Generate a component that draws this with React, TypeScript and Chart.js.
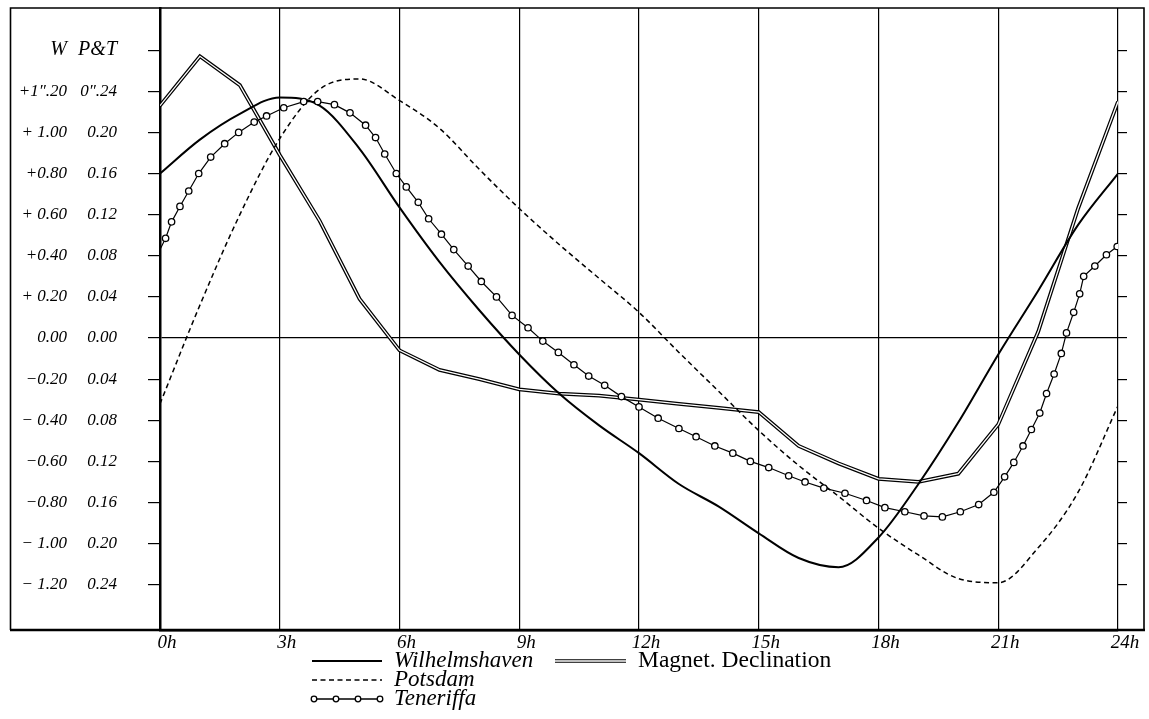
import React, { useEffect, useRef } from 'react';
import { Chart, registerables } from 'chart.js';

Chart.register(...registerables);

// ---- data (hours, W-scale values for Wilhelmshaven & Magnet. Declination, P&T-scale for Potsdam & Teneriffa)
const HOURS = [0, 1, 2, 3, 4, 5, 6, 7, 8, 9, 10, 11, 12, 13, 14, 15, 16, 17, 18, 19, 20, 21, 22, 23, 24];
const WILHELMSHAVEN = [0.80, 0.965, 1.09, 1.17, 1.13, 0.92, 0.635, 0.37, 0.135, -0.08, -0.27, -0.425, -0.56, -0.71, -0.82, -0.95, -1.07, -1.115, -0.97, -0.71, -0.41, -0.08, 0.23, 0.55, 0.80];
const MAGNET_DECLINATION = [1.13, 1.37, 1.23, 0.89, 0.57, 0.19, -0.06, -0.155, -0.20, -0.25, -0.27, -0.28, -0.30, -0.32, -0.34, -0.36, -0.525, -0.61, -0.685, -0.70, -0.66, -0.42, 0.03, 0.63, 1.15];
const POTSDAM = [-0.064, 0.032, 0.120, 0.194, 0.242, 0.252, 0.231, 0.204, 0.164, 0.126, 0.091, 0.058, 0.025, -0.014, -0.052, -0.090, -0.124, -0.154, -0.185, -0.211, -0.234, -0.238, -0.204, -0.150, -0.066];
const TENERIFFA_HOURS = [0, 0.14, 0.29, 0.50, 0.72, 0.97, 1.27, 1.62, 1.97, 2.36, 2.67, 3.10, 3.60, 3.95, 4.37, 4.76, 5.15, 5.40, 5.63, 5.92, 6.17, 6.47, 6.73, 7.05, 7.36, 7.72, 8.05, 8.43, 8.82, 9.22, 9.59, 9.98, 10.37, 10.74, 11.14, 11.56, 12.00, 12.48, 13.00, 13.43, 13.90, 14.35, 14.79, 15.25, 15.75, 16.16, 16.63, 17.16, 17.70, 18.16, 18.66, 19.14, 19.60, 20.05, 20.51, 20.89, 21.16, 21.39, 21.62, 21.83, 22.04, 22.21, 22.40, 22.58, 22.71, 22.89, 23.04, 23.14, 23.42, 23.71, 23.98];
const TENERIFFA = [0.086, 0.097, 0.113, 0.128, 0.143, 0.160, 0.176, 0.189, 0.200, 0.210, 0.216, 0.224, 0.230, 0.230, 0.227, 0.219, 0.207, 0.195, 0.179, 0.160, 0.147, 0.132, 0.116, 0.101, 0.086, 0.070, 0.055, 0.040, 0.022, 0.010, -0.003, -0.014, -0.026, -0.037, -0.046, -0.057, -0.067, -0.078, -0.088, -0.096, -0.105, -0.112, -0.120, -0.126, -0.134, -0.140, -0.146, -0.151, -0.158, -0.165, -0.169, -0.173, -0.174, -0.169, -0.162, -0.150, -0.135, -0.121, -0.105, -0.089, -0.073, -0.054, -0.035, -0.015, 0.005, 0.025, 0.043, 0.060, 0.070, 0.081, 0.089];

const SERIES_NAMES = ['Wilhelmshaven', 'Magnet. Declination', 'Potsdam', 'Teneriffa'];

const W_TICKS = [1.4, 1.2, 1.0, 0.8, 0.6, 0.4, 0.2, 0, -0.2, -0.4, -0.6, -0.8, -1.0, -1.2];
const W_LABELS = ['W', '+1″.20', '+ 1.00', '+0.80', '+ 0.60', '+0.40', '+ 0.20', '0.00', '−0.20', '− 0.40', '−0.60', '−0.80', '− 1.00', '− 1.20'];
const PT_TICKS = [0.28, 0.24, 0.20, 0.16, 0.12, 0.08, 0.04, 0, -0.04, -0.08, -0.12, -0.16, -0.20, -0.24];
const PT_LABELS = ['P&T', '0″.24', '0.20', '0.16', '0.12', '0.08', '0.04', '0.00', '0.04', '0.08', '0.12', '0.16', '0.20', '0.24'];
const X_TICKS = [0, 3, 6, 9, 12, 15, 18, 21, 24];
const X_LABELS = ['0h', '3h', '6h', '9h', '12h', '15h', '18h', '21h', '24h'];

const W_MIN = -1.42;
const W_MAX = 1.605;
const PT_MIN = -0.284;
const PT_MAX = 0.321;

const SERIF = '"Liberation Serif", "DejaVu Serif", serif';

const framePlugin = {
  id: 'frame',
  afterDraw(chart: any) {
    const { ctx, chartArea } = chart;
    ctx.save();
    ctx.strokeStyle = '#000';
    ctx.setLineDash([]);
    ctx.lineWidth = 1.6;
    ctx.beginPath();
    ctx.moveTo(10.5, chartArea.bottom);
    ctx.lineTo(10.5, chartArea.top);
    ctx.lineTo(1144, chartArea.top);
    ctx.lineTo(1144, chartArea.bottom);
    ctx.stroke();
    ctx.lineWidth = 2.5;
    ctx.beginPath();
    ctx.moveTo(10, chartArea.bottom);
    ctx.lineTo(1145, chartArea.bottom);
    ctx.stroke();
    ctx.restore();
  },
};

const legendPlugin = {
  id: 'oldLegend',
  afterDraw(chart: any) {
    const ctx = chart.ctx;
    const seg = (a: number, b: number, y: number) => {
      ctx.beginPath();
      ctx.moveTo(a, y);
      ctx.lineTo(b, y);
      ctx.stroke();
    };
    const x0 = 312;
    const x1 = 382;
    const tx = 394;
    const r = [661, 680, 699];
    ctx.save();
    ctx.fillStyle = '#000';
    ctx.strokeStyle = '#000';
    ctx.textBaseline = 'middle';
    ctx.textAlign = 'left';
    // Wilhelmshaven
    ctx.setLineDash([]);
    ctx.lineWidth = 1.8;
    seg(x0, x1, r[0]);
    ctx.font = `italic 23px ${SERIF}`;
    ctx.fillText(SERIES_NAMES[0], tx, r[0]);
    // Magnet. Declination
    ctx.lineWidth = 3.6;
    seg(555, 626, r[0]);
    ctx.strokeStyle = '#fff';
    ctx.lineWidth = 1.3;
    seg(555, 626, r[0]);
    ctx.strokeStyle = '#000';
    ctx.font = `23.5px ${SERIF}`;
    ctx.fillText(SERIES_NAMES[1], 638, r[0]);
    // Potsdam
    ctx.setLineDash([5, 3.5]);
    ctx.lineWidth = 1.5;
    seg(x0, x1, r[1]);
    ctx.setLineDash([]);
    ctx.font = `italic 23px ${SERIF}`;
    ctx.fillText(SERIES_NAMES[2], tx, r[1]);
    // Teneriffa
    ctx.lineWidth = 1.3;
    seg(x0, x1, r[2]);
    [314, 336, 358, 380].forEach((cx) => {
      ctx.beginPath();
      ctx.arc(cx, r[2], 2.8, 0, Math.PI * 2);
      ctx.fillStyle = '#fff';
      ctx.fill();
      ctx.stroke();
    });
    ctx.fillStyle = '#000';
    ctx.fillText(SERIES_NAMES[3], tx, r[2]);
    ctx.restore();
  },
};

const noPad = (s: any) => {
  s.paddingTop = 0;
  s.paddingBottom = 0;
  s.paddingLeft = 0;
  s.paddingRight = 0;
};

export default function App() {
  const ref = useRef<HTMLCanvasElement | null>(null);

  useEffect(() => {
    const canvas = ref.current;
    if (!canvas) return;
    Chart.defaults.color = '#000';

    const chart = new Chart(canvas, {
      type: 'line',
      data: {
        datasets: [
          {
            label: SERIES_NAMES[3],
            data: TENERIFFA_HOURS.map((h, i) => ({ x: h, y: TENERIFFA[i] })),
            yAxisID: 'yPT',
            borderColor: '#000',
            borderWidth: 1.2,
            tension: 0,
            pointRadius: (c: any) => (c.dataIndex === 0 ? 0 : 3.2),
            pointBackgroundColor: '#fff',
            pointBorderColor: '#000',
            pointBorderWidth: 1.3,
            fill: false,
            order: 0,
          },
          {
            label: SERIES_NAMES[0],
            data: HOURS.map((h, i) => ({ x: h, y: WILHELMSHAVEN[i] })),
            yAxisID: 'yW',
            borderColor: '#000',
            borderWidth: 2,
            cubicInterpolationMode: 'monotone',
            pointRadius: 0,
            fill: false,
            order: 1,
          },
          {
            label: SERIES_NAMES[2],
            data: HOURS.map((h, i) => ({ x: h, y: POTSDAM[i] })),
            yAxisID: 'yPT',
            borderColor: '#000',
            borderWidth: 1.5,
            borderDash: [5, 3.5],
            cubicInterpolationMode: 'monotone',
            pointRadius: 0,
            fill: false,
            order: 2,
          },
          {
            label: SERIES_NAMES[1] + ' (inner)',
            data: HOURS.map((h, i) => ({ x: h, y: MAGNET_DECLINATION[i] })),
            yAxisID: 'yW',
            borderColor: '#fff',
            borderWidth: 1.3,
            tension: 0,
            pointRadius: 0,
            fill: false,
            order: 8,
          },
          {
            label: SERIES_NAMES[1],
            data: HOURS.map((h, i) => ({ x: h, y: MAGNET_DECLINATION[i] })),
            yAxisID: 'yW',
            borderColor: '#000',
            borderWidth: 3.8,
            tension: 0,
            pointRadius: 0,
            fill: false,
            order: 9,
          },
        ],
      },
      options: {
        animation: false,
        responsive: false,
        devicePixelRatio: 1,
        layout: { padding: { left: 10, right: 6, top: 8, bottom: 0 } },
        plugins: {
          legend: { display: false },
          tooltip: { enabled: false },
          title: { display: false },
        },
        scales: {
          x: {
            type: 'linear',
            min: 0,
            max: 24,
            afterBuildTicks: (s: any) => {
              s.ticks = X_TICKS.map((v) => ({ value: v }));
            },
            afterFit: (s: any) => {
              s.height = 89;
              noPad(s);
            },
            grid: { color: '#000', lineWidth: 1.2, drawTicks: false },
            border: { display: true, color: '#000', width: 2.5 },
            ticks: {
              callback: (v: any) => X_LABELS[X_TICKS.indexOf(v)],
              font: { family: SERIF, size: 19, style: 'italic' },
              color: '#000',
              padding: 2,
              labelOffset: 7,
              maxRotation: 0,
              autoSkip: false,
            },
          },
          yW: {
            type: 'linear',
            position: 'left',
            weight: 2,
            min: W_MIN,
            max: W_MAX,
            afterBuildTicks: (s: any) => {
              s.ticks = W_TICKS.map((v) => ({ value: v }));
            },
            afterFit: (s: any) => {
              s.width = 60;
              noPad(s);
            },
            grid: { display: false, drawTicks: false, drawOnChartArea: false },
            border: { display: false },
            ticks: {
              callback: (v: any) => W_LABELS[W_TICKS.indexOf(v)],
              font: (c: any) =>
                c.index === 0
                  ? { family: SERIF, size: 20, style: 'italic' }
                  : { family: SERIF, size: 17, style: 'italic' },
              color: '#000',
              padding: 3,
              autoSkip: false,
            },
          },
          yPT: {
            type: 'linear',
            position: 'left',
            weight: 1,
            min: PT_MIN,
            max: PT_MAX,
            afterBuildTicks: (s: any) => {
              s.ticks = PT_TICKS.map((v) => ({ value: v }));
            },
            afterFit: (s: any) => {
              s.width = 90;
              noPad(s);
            },
            grid: {
              drawOnChartArea: true,
              drawTicks: true,
              tickLength: 12,
              lineWidth: 1.2,
              color: (c: any) => (c.tick && c.tick.value === 0 ? '#000' : 'rgba(0,0,0,0)'),
              tickColor: '#000',
            },
            border: { display: true, color: '#000', width: 2.5 },
            ticks: {
              callback: (v: any) => PT_LABELS[PT_TICKS.indexOf(v)],
              font: (c: any) =>
                c.index === 0
                  ? { family: SERIF, size: 20, style: 'italic' }
                  : { family: SERIF, size: 17, style: 'italic' },
              color: '#000',
              padding: 31,
              autoSkip: false,
            },
          },
          yR: {
            type: 'linear',
            position: 'right',
            min: W_MIN,
            max: W_MAX,
            afterBuildTicks: (s: any) => {
              s.ticks = W_TICKS.map((v) => ({ value: v }));
            },
            afterFit: (s: any) => {
              s.width = 25;
              noPad(s);
            },
            grid: {
              drawOnChartArea: false,
              drawTicks: true,
              tickLength: 9,
              lineWidth: 1.2,
              color: '#000',
              tickColor: '#000',
            },
            border: { display: false },
            ticks: { callback: () => '', padding: 0, autoSkip: false },
          },
        },
      } as any,
      plugins: [framePlugin, legendPlugin],
    });

    return () => {
      chart.destroy();
    };
  }, []);

  return (
    <div style={{ position: 'absolute', left: 0, top: 0, width: 1149, height: 719, background: '#fff' }}>
      <canvas ref={ref} width={1149} height={719} style={{ display: 'block', width: 1149, height: 719 }} />
    </div>
  );
}
